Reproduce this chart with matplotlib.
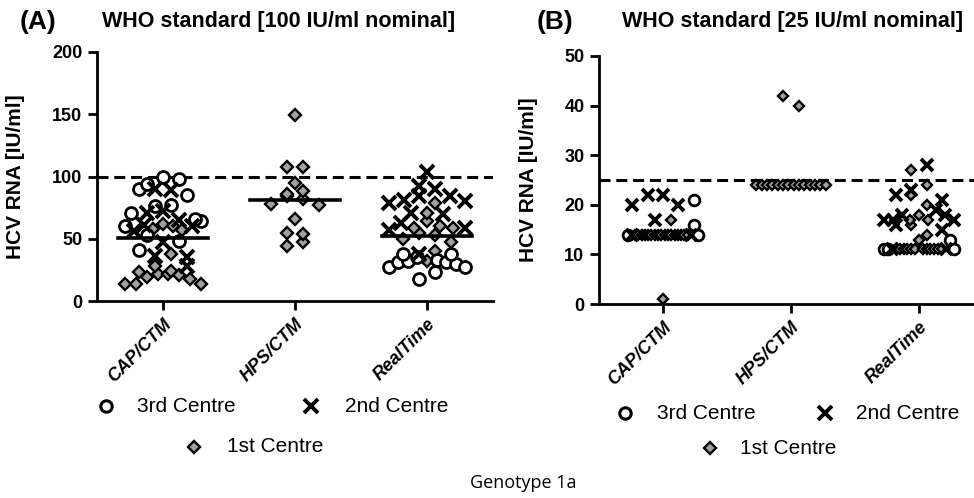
import numpy as np
import matplotlib
matplotlib.use("Agg")
import matplotlib.pyplot as plt
from matplotlib.lines import Line2D

# ---------------- data ----------------
categories = ["CAP/CTM", "HPS/CTM", "RealTime"]

# Panel A: WHO standard 100 IU/ml
A_3rd = {
    "CAP/CTM": [98, 100, 90, 94, 85, 77, 71, 76, 64, 60, 48, 41, 53, 66],
    "HPS/CTM": [],
    "RealTime": [38, 38, 35, 33, 31, 32, 31, 30, 27, 23, 18, 27],
}
A_2nd = {
    "CAP/CTM": [90, 89, 71, 72, 65, 61, 60, 47, 36, 35, 28, 56],
    "HPS/CTM": [],
    "RealTime": [104, 90, 92, 80, 84, 84, 81, 79, 71, 70, 59, 63, 57, 38],
}
A_1st = {
    "CAP/CTM": [23, 22, 18, 14, 14, 14, 19, 21, 22, 24, 28, 38, 57, 58, 60, 62],
    "HPS/CTM": [149, 108, 108, 95, 88, 86, 82, 84, 77, 78, 66, 54, 55, 44, 47],
    "RealTime": [79, 71, 64, 59, 60, 59, 55, 50, 47, 40, 32, 53],
}
A_median = [51, 81, 52]
A_nominal = 100
A_yticks = [0, 50, 100, 150, 200]

# Panel B: WHO standard 25 IU/ml
B_3rd = {
    "CAP/CTM": [21, 16, 14, 14],
    "HPS/CTM": [],
    "RealTime": [13, 11, 11, 11],
}
B_2nd = {
    "CAP/CTM": [22, 22, 20, 20, 17, 14, 14],
    "HPS/CTM": [],
    "RealTime": [28, 23, 22, 21, 19, 18, 18, 17, 17, 17, 16, 15, 11, 11],
}
B_1st = {
    "CAP/CTM": [17, 14, 14, 14, 14, 14, 14, 14, 14, 14, 14, 14, 14, 14, 14, 14, 14, 14, 1],
    "HPS/CTM": [24, 24, 24, 24, 24, 24, 24, 24, 24, 24, 24, 24, 24, 24, 42, 40],
    "RealTime": [27, 24, 22, 20, 18, 17, 16, 17, 14, 13,
                 11, 11, 11, 11, 11, 11, 11, 11, 11, 11, 11, 11],
}
B_nominal = 25
B_yticks = [0, 10, 20, 30, 40, 50]

legend_labels = ["3rd Centre", "2nd Centre", "1st Centre"]

# ---------------- fonts ----------------
plt.rcParams["font.family"] = ["Liberation Sans", "DejaVu Sans"]

W, H = 974, 498
fig = plt.figure(figsize=(W / 100, H / 100), dpi=100)


def fx(px):
    return px / W


def fy(py):
    return 1 - py / H


def swarm(values_by_kind, binsize, spacing, halfmax):
    """Column-scatter layout: bin by value, spread points horizontally."""
    pts = []
    for kind, vals in values_by_kind:
        for v in vals:
            pts.append((v, kind))
    pts.sort(key=lambda p: p[0])
    out = []
    i = 0
    flip = 1
    kinds_order = {"3rd": 0, "2nd": 1, "1st": 2}
    while i < len(pts):
        j = i
        start = pts[i][0]
        while j < len(pts) and pts[j][0] - start <= binsize:
            j += 1
        group = pts[i:j]
        n = len(group)
        w = spacing if n <= 1 else min(spacing, 2 * halfmax / (n - 1))
        offs = (np.arange(n) - (n - 1) / 2) * w
        order = sorted(range(n), key=lambda k: (kinds_order[group[k][1]], k))
        order = order[0::2] + order[1::2][::-1]
        if flip < 0:
            order = order[::-1]
        for pos, k in zip(offs, order):
            out.append((pos, group[k][0], group[k][1]))
        flip = -flip
        i = j
    return out


def draw_panel(ax, d3, d2, d1, medians, nominal, yticks, ylim, xlim,
               binsize, spacing, halfmax, ms_scale):
    for ci, cat in enumerate(categories):
        xc = ci + 1
        pts = swarm([("3rd", d3[cat]), ("2nd", d2[cat]), ("1st", d1[cat])],
                    binsize, spacing, halfmax)
        for kind in ["1st", "3rd", "2nd"]:
            xs = [xc + p[0] for p in pts if p[2] == kind]
            ys = [p[1] for p in pts if p[2] == kind]
            if not xs:
                continue
            if kind == "3rd":
                ax.plot(xs, ys, "o", ms=8.6 * ms_scale, mfc="white", mec="black",
                        mew=2.0, ls="none", zorder=3, clip_on=False)
            elif kind == "2nd":
                ax.plot(xs, ys, "x", ms=9.5 * ms_scale, mec="black",
                        mew=2.8, ls="none", zorder=4, clip_on=False)
            else:
                ax.plot(xs, ys, "D", ms=6.0 * ms_scale, mfc="#a0a0a0", mec="black",
                        mew=1.7, ls="none", zorder=2, clip_on=False)
        if medians is not None:
            ax.plot([xc - 0.342, xc + 0.342], [medians[ci], medians[ci]],
                    color="black", lw=2.6, zorder=5)
    ax.axhline(nominal, color="black", lw=2.2, ls=(0, (3.6, 1.9)), zorder=1)
    ax.set_xlim(*xlim)
    ax.set_ylim(*ylim)
    ax.set_yticks(yticks)
    ax.set_xticks([1, 2, 3])
    ax.set_xticklabels(categories, rotation=45, ha="right", va="top",
                       rotation_mode="anchor",
                       fontweight="bold", fontstyle="italic", fontsize=13)
    for lab in ax.get_yticklabels():
        lab.set_fontweight("bold")
        lab.set_fontsize(13)
    for s in ["top", "right"]:
        ax.spines[s].set_visible(False)
    for s in ["left", "bottom"]:
        ax.spines[s].set_linewidth(2.0)
        ax.spines[s].set_capstyle("projecting")
    ax.tick_params(width=2.0, length=6.5, direction="out", pad=4)
    ax.set_ylabel("HCV RNA [IU/ml]", fontweight="bold", fontsize=15)


axA = fig.add_axes([fx(97), fy(301), fx(493) - fx(97), fy(52) - fy(301)])
draw_panel(axA, A_3rd, A_2nd, A_1st, A_median, A_nominal, A_yticks, (0, 200),
           (0.5, 3.5), 8, 0.12, 0.29, 1.0)
axA.yaxis.set_label_coords(-0.182, 0.5)

axB = fig.add_axes([fx(599), fy(304), fx(974) - fx(599), fy(56) - fy(304)])
draw_panel(axB, B_3rd, B_2nd, B_1st, None, B_nominal, B_yticks, (0, 50),
           (0.5, 3.43), 2.2, 0.12, 0.27, 0.9)
axB.yaxis.set_label_coords(-0.163, 0.5)

# titles
fig.text(fx(20), fy(22), "(A)", fontsize=19, fontweight="bold", va="center")
fig.text(fx(102), fy(22), "WHO standard [100 IU/ml nominal]", fontsize=15.5,
         fontweight="bold", va="center")
fig.text(fx(537), fy(22), "(B)", fontsize=19, fontweight="bold", va="center")
fig.text(fx(622), fy(22), "WHO standard [25 IU/ml nominal]", fontsize=15.5,
         fontweight="bold", va="center")


# legends (drawn in figure pixel positions)
def legend_item(kind, mx, my, tx, label):
    if kind == "3rd":
        m = Line2D([fx(mx)], [fy(my)], marker="o", ls="none", ms=8.2, mfc="white",
                   mec="black", mew=2.2, transform=fig.transFigure)
    elif kind == "2nd":
        m = Line2D([fx(mx)], [fy(my)], marker="x", ls="none", ms=9.5,
                   mec="black", mew=2.8, transform=fig.transFigure)
    else:
        m = Line2D([fx(mx)], [fy(my)], marker="D", ls="none", ms=6.0, mfc="#a0a0a0",
                   mec="black", mew=1.7, transform=fig.transFigure)
    fig.add_artist(m)
    fig.text(fx(tx), fy(my), label, fontsize=15, va="center", ha="left")


legend_item("3rd", 106, 406, 137, legend_labels[0])
legend_item("2nd", 311, 406, 345, legend_labels[1])
legend_item("1st", 194, 447, 227, legend_labels[2])
legend_item("3rd", 625, 413, 657, legend_labels[0])
legend_item("2nd", 825, 413, 856, legend_labels[1])
legend_item("1st", 710, 448, 740, legend_labels[2])

fig.text(fx(523), fy(483), "Genotype 1a", ha="center", va="center",
         fontsize=13, family=["Open Sans", "DejaVu Sans"])

fig.savefig("out.png", dpi=100)
